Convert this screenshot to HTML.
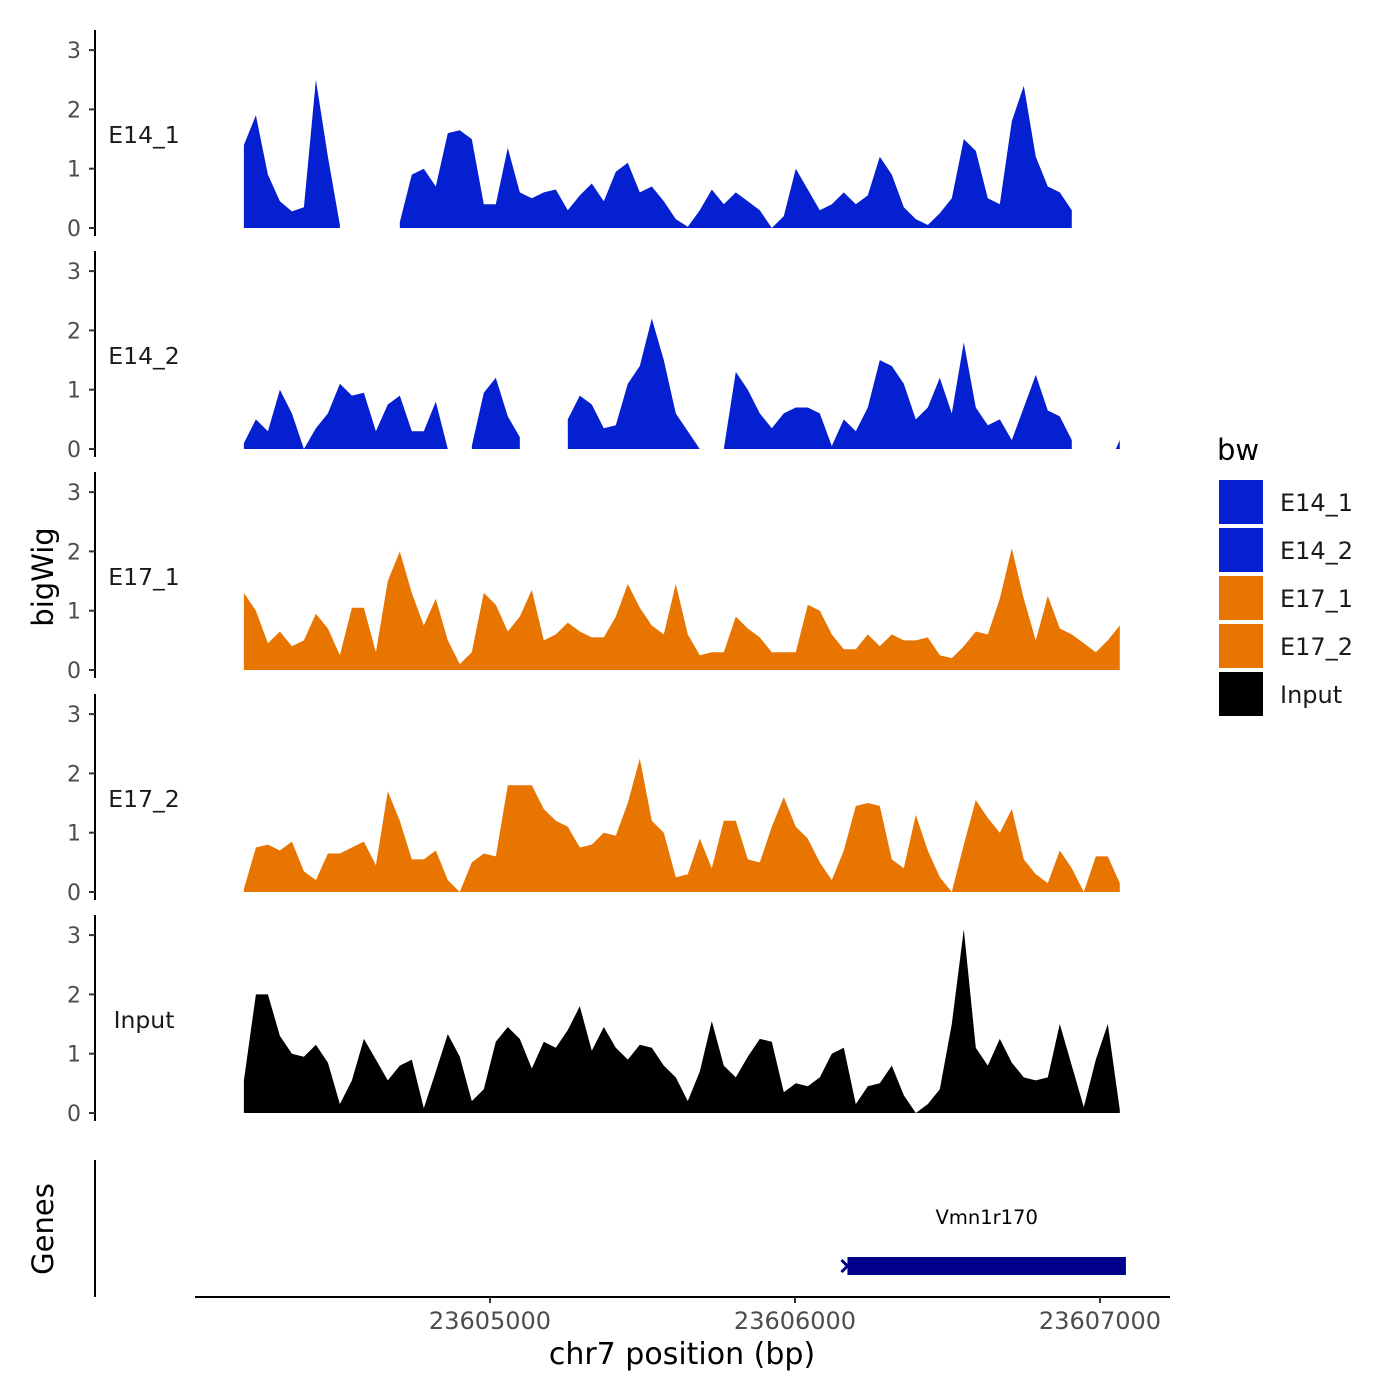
<!DOCTYPE html>
<html><head><meta charset="utf-8"><style>
html,body{margin:0;padding:0;background:#fff}
svg{display:block}
text{font-family:"DejaVu Sans","Liberation Sans",sans-serif}
</style></head><body>
<svg id="chart" width="1400" height="1400" viewBox="0 0 1400 1400" xmlns="http://www.w3.org/2000/svg">
<rect width="1400" height="1400" fill="#fff"/>
<g id="tracks"></g>
<g id="axes"></g>
<text x="53" y="577" font-size="29" text-anchor="middle" transform="rotate(-90 53 577)">bigWig</text>
<text x="53" y="1229" font-size="29" text-anchor="middle" transform="rotate(-90 53 1229)">Genes</text>
<line x1="95" y1="1160" x2="95" y2="1297" stroke="#000" stroke-width="2"/>
<line x1="195" y1="1297" x2="1170" y2="1297" stroke="#000" stroke-width="2"/>
<g id="xticks"></g>
<text x="682" y="1364" font-size="30" text-anchor="middle">chr7 position (bp)</text>
<g id="gene"></g>
<g>
<text x="1217" y="460" font-size="29">bw</text>
<g id="legend-items"></g>
</g>
</svg>
<script>
// ---- data ----
const trackNames = ["E14_1","E14_2","E17_1","E17_2","Input"];
const trackColors = ["#0420D0","#0420D0","#E87500","#E87500","#000000"];
const startBp = 23604193;
const stepBp = 39.34;
const yTicks = [0,1,2,3];
const xTicks = [23605000,23606000,23607000];
const xTickLabels = ["23605000","23606000","23607000"];
const geneName = "Vmn1r170";
const geneStart = 23606172;
const geneEnd = 23607085;
const e14_1 = [1.4,1.9,0.9,0.45,0.28,0.35,2.5,1.2,0.05,null,null,null,null,0.1,0.9,1.0,0.7,1.6,1.65,1.5,0.4,0.4,1.35,0.6,0.5,0.6,0.65,0.3,0.55,0.75,0.45,0.95,1.1,0.6,0.7,0.45,0.15,0.02,0.3,0.65,0.4,0.6,0.45,0.3,0.0,0.2,1.0,0.65,0.3,0.4,0.6,0.4,0.55,1.2,0.9,0.35,0.15,0.05,0.25,0.5,1.5,1.3,0.5,0.4,1.8,2.4,1.2,0.7,0.6,0.3,null,null,null,null];
const e14_2 = [0.1,0.5,0.3,1.0,0.6,0.0,0.35,0.6,1.1,0.9,0.95,0.3,0.75,0.9,0.3,0.3,0.8,0.0,null,0.05,0.95,1.2,0.55,0.2,null,null,null,0.5,0.9,0.75,0.35,0.4,1.1,1.4,2.2,1.5,0.6,0.3,0.0,null,0.0,1.3,1.0,0.6,0.35,0.6,0.7,0.7,0.6,0.05,0.5,0.3,0.7,1.5,1.4,1.1,0.5,0.7,1.2,0.6,1.8,0.7,0.4,0.5,0.15,0.7,1.25,0.65,0.55,0.15,null,null,null,0.15];
const e17_1 = [1.3,1.0,0.45,0.65,0.4,0.5,0.95,0.7,0.25,1.05,1.05,0.3,1.5,2.0,1.3,0.75,1.2,0.5,0.1,0.3,1.3,1.1,0.65,0.9,1.35,0.5,0.6,0.8,0.65,0.55,0.55,0.9,1.45,1.05,0.75,0.6,1.45,0.6,0.25,0.3,0.3,0.9,0.7,0.55,0.3,0.3,0.3,1.1,1.0,0.6,0.35,0.35,0.6,0.4,0.6,0.5,0.5,0.55,0.25,0.2,0.4,0.65,0.6,1.2,2.05,1.2,0.5,1.25,0.7,0.6,0.45,0.3,0.5,0.75];
const e17_2 = [0.05,0.75,0.8,0.7,0.85,0.35,0.2,0.65,0.65,0.75,0.85,0.45,1.7,1.2,0.55,0.55,0.7,0.2,0.0,0.5,0.65,0.6,1.8,1.8,1.8,1.4,1.2,1.1,0.75,0.8,1.0,0.95,1.5,2.25,1.2,1.0,0.25,0.3,0.9,0.4,1.2,1.2,0.55,0.5,1.1,1.6,1.1,0.9,0.5,0.2,0.7,1.45,1.5,1.45,0.55,0.4,1.3,0.7,0.25,0.0,0.8,1.55,1.25,1.0,1.4,0.55,0.3,0.15,0.7,0.4,0.0,0.6,0.6,0.15];
const input = [0.55,2.0,2.0,1.3,1.0,0.95,1.15,0.85,0.15,0.55,1.25,0.9,0.55,0.8,0.9,0.08,0.7,1.33,0.95,0.2,0.4,1.2,1.45,1.25,0.75,1.2,1.1,1.4,1.8,1.05,1.45,1.1,0.9,1.15,1.1,0.8,0.6,0.2,0.7,1.55,0.8,0.6,0.95,1.25,1.2,0.35,0.5,0.45,0.6,1.0,1.1,0.15,0.45,0.5,0.8,0.3,0.0,0.15,0.4,1.5,3.1,1.1,0.8,1.25,0.85,0.6,0.55,0.6,1.5,0.8,0.1,0.9,1.5,0.05];
const series = [e14_1,e14_2,e17_1,e17_2,input];

// ---- layout ----
const NS="http://www.w3.org/2000/svg";
const panelZero=[228,449,670,892,1113];
const unitPx=59.3;
function xScale(bp){return 490+(bp-23605000)*0.305;}
function yScale(p,v){return panelZero[p]-v*unitPx;}
function mk(tag,attrs,parent){const e=document.createElementNS(NS,tag);for(const k in attrs)e.setAttribute(k,attrs[k]);parent.appendChild(e);return e;}

const tracks=document.getElementById('tracks');
const axes=document.getElementById('axes');
series.forEach((vals,p)=>{
  const g=mk('g',{},tracks);
  
  
  let run=[];
  const flush=()=>{
    if(!run.length)return;
    let pts=[];
    let xs=run.map(i=>xScale(startBp+i*stepBp));
    if(run.length===1){xs=[xs[0]-4,xs[0]];}
    const vs=run.length===1?[0,vals[run[0]]]:run.map(i=>vals[i]);
    pts.push(xs[0]+','+panelZero[p]);
    xs.forEach((x,k)=>pts.push(x.toFixed(1)+','+yScale(p,vs[k]).toFixed(1)));
    pts.push(xs[xs.length-1]+','+panelZero[p]);
    const poly=mk('polygon',{points:pts.join(' '),fill:trackColors[p]},g);
    
    
    run=[];
  };
  vals.forEach((v,i)=>{if(v===null)flush();else run.push(i);});
  flush();
  const ax=mk('g',{},axes);
  
  
  mk('line',{x1:95,y1:panelZero[p]-198,x2:95,y2:panelZero[p]+8,stroke:'#000','stroke-width':2},ax);
  yTicks.forEach(t=>{
    const y=yScale(p,t);
    mk('line',{x1:89,y1:y,x2:95,y2:y,stroke:'#333','stroke-width':2},ax);
    const tx=mk('text',{x:81,y:y+8,'font-size':22,fill:'#4d4d4d','text-anchor':'end'},ax);
    tx.textContent=t;
    
    
  });
  const lab=mk('text',{x:144,y:panelZero[p]-85,'font-size':23.5,'text-anchor':'middle',fill:'#1a1a1a'},ax);
  lab.textContent=trackNames[p];
  
  
});

const xt=document.getElementById('xticks');
xTicks.forEach((t,i)=>{
  const x=xScale(t);
  mk('line',{x1:x,y1:1297,x2:x,y2:1303,stroke:'#333','stroke-width':2},xt);
  const tx=mk('text',{x:x,y:1329,'font-size':24,fill:'#4d4d4d','text-anchor':'middle'},xt);
  tx.textContent=xTickLabels[i];
  
  
});

const gene=document.getElementById('gene');
const gx0=xScale(geneStart),gx1=xScale(geneEnd);
const gr=mk('rect',{x:gx0,y:1257,width:gx1-gx0,height:18,fill:'#00008B'},gene);


mk('path',{d:`M${gx0-6},1260 L${gx0},1266 L${gx0-6},1272`,stroke:'#00008B','stroke-width':3,fill:'none'},gene);
const gt=mk('text',{x:(gx0+gx1)/2,y:1224,'font-size':19.5,'text-anchor':'middle'},gene);
gt.textContent=geneName;



const li=document.getElementById('legend-items');
trackNames.forEach((n,i)=>{
  const y=480+i*48;
  const r=mk('rect',{x:1219,y:y,width:44,height:44,fill:trackColors[i]},li);
  
  
  const t=mk('text',{x:1280,y:y+31,'font-size':24,fill:'#1a1a1a'},li);
  t.textContent=n;
  
  
});
</script>
</body></html>
